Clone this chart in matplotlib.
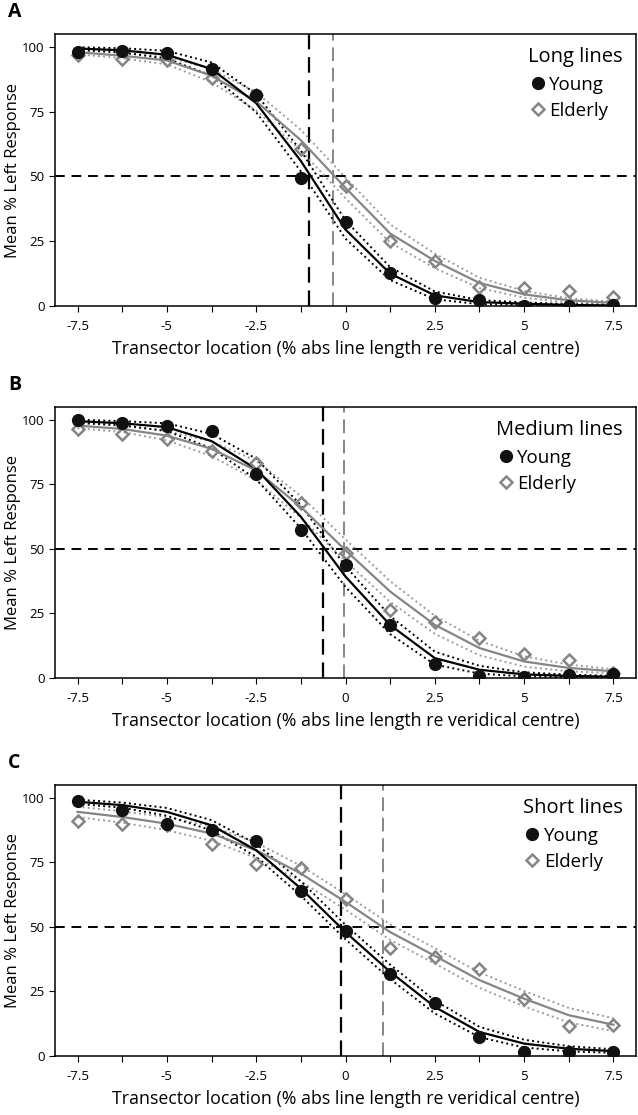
import numpy as np
import matplotlib
matplotlib.use('Agg')
import matplotlib.pyplot as plt

plt.rcParams['font.family'] = ['Open Sans', 'DejaVu Sans']

# transector positions (% line length re veridical centre)
x = [-7.5, -6.25, -5, -3.75, -2.5, -1.25, 0, 1.25, 2.5, 3.75, 5, 6.25, 7.5]
xtick_labels = ['-7.5', '-5', '-2.5', '0', '2.5', '5', '7.5']
panel_letters = ['A', 'B', 'C']
panel_titles = ['Long lines', 'Medium lines', 'Short lines']

# A - long lines
young_a = [98, 98.3, 97.7, 91.5, 81.5, 49.5, 32.5, 12.8, 3.1, 2.2, 0, 0, 0.3]
elderly_a = [97, 95.5, 94.8, 88, 81.5, 60.6, 46.3, 25, 17.3, 7.4, 7, 5.8, 3.5]
young_fit_a = [99.4, 98.7, 97, 91.5, 78.3, 56, 29.5, 12.5, 4.1, 1.5, 0.9, 0.4, 0.2]
elderly_fit_a = [98, 96.6, 94.8, 88.9, 79, 64, 45.6, 28, 17.4, 8.9, 4.5, 2.2, 1.2]
young_ci_a = [0.5, 0.8, 1.5, 2.5, 3.5, 4.0, 3.5, 2.5, 1.5, 0.8, 0.5, 0.3, 0.2]
elderly_ci_a = [0.8, 1.0, 1.5, 2.5, 3.5, 4.0, 4.0, 3.5, 2.8, 2.0, 1.3, 0.8, 0.5]
pse_a = [-1.02, -0.36]

# B - medium lines
young_b = [100, 98.7, 97.8, 95.6, 79.2, 57.3, 43.8, 20.6, 5.5, 0.6, 0.3, 1.3, 1.6]
elderly_b = [96.3, 94.6, 92.7, 87.8, 83.3, 67.8, 48.5, 26.4, 21.6, 15.4, 9.4, 6.8, 1.9]
young_fit_b = [99.5, 98.7, 97.2, 91.8, 81, 62.5, 39.3, 20.5, 7.7, 3.2, 1.4, 0.8, 0.5]
elderly_fit_b = [97.8, 96.5, 93.9, 88.8, 80.4, 66.3, 49.5, 33.5, 20.6, 11.6, 6.4, 3.9, 2.6]
young_ci_b = [0.6, 0.8, 1.5, 2.8, 4.0, 4.5, 4.0, 3.5, 2.5, 1.5, 0.8, 0.5, 0.3]
elderly_ci_b = [1.0, 1.2, 1.8, 2.8, 3.8, 4.2, 4.2, 4.0, 3.5, 2.8, 2.0, 1.3, 0.8]
pse_b = [-0.63, -0.03]

# C - short lines
young_c = [98.7, 95.2, 89.7, 87.5, 83.3, 64, 48.4, 31.9, 20.7, 7.4, 1.6, 1.6, 1.6]
elderly_c = [90.9, 90, 89.6, 82, 74.3, 73, 60.7, 42, 38.4, 33.6, 22.2, 11.6, 12.1]
young_fit_c = [98.5, 97.2, 94.6, 89.4, 79.7, 64.9, 48, 32.6, 19, 9.3, 4.8, 2.8, 1.9]
elderly_fit_c = [94.6, 92.6, 90, 86.2, 79.7, 70.7, 59.7, 48, 38.8, 29.4, 22.2, 15.8, 12.1]
young_ci_c = [0.8, 1.0, 1.5, 2.0, 2.5, 2.8, 2.8, 2.8, 2.5, 2.0, 1.5, 1.0, 0.7]
elderly_ci_c = [2.0, 2.2, 2.5, 2.8, 3.0, 3.0, 3.0, 3.0, 3.0, 3.0, 3.0, 2.8, 2.5]
pse_c = [-0.13, 1.05]

panels = [
    (young_a, elderly_a, young_fit_a, elderly_fit_a, young_ci_a, elderly_ci_a, pse_a),
    (young_b, elderly_b, young_fit_b, elderly_fit_b, young_ci_b, elderly_ci_b, pse_b),
    (young_c, elderly_c, young_fit_c, elderly_fit_c, young_ci_c, elderly_ci_c, pse_c),
]

W, H = 638, 1115
fig = plt.figure(figsize=(W / 100, H / 100), dpi=100)
fig.patch.set_facecolor('white')

# axes boxes in pixels: (top, bottom)
boxes = [(34, 306), (407, 678), (785, 1056)]
left, right = 55, 636

grey = '#858585'
grey_dot = '#9a9a9a'

for i, (yv, ev, yf, ef, yci, eci, pse) in enumerate(panels):
    top, bot = boxes[i]
    ax = fig.add_axes([left / W, 1 - bot / H, (right - left) / W, (bot - top) / H])
    yf = np.array(yf)
    ef = np.array(ef)
    yci = np.array(yci)
    eci = np.array(eci)

    ax.axhline(50, color='black', lw=1.4, ls=(0, (5, 3.5)), zorder=1)
    ax.axvline(pse[0], color='black', lw=1.6, ls=(0, (7, 3.5)), zorder=1)
    ax.axvline(pse[1], color=grey, lw=1.4, ls=(0, (7, 3.5)), zorder=1)

    ax.plot(x, ef + eci, color=grey_dot, ls=':', lw=1.4, zorder=2)
    ax.plot(x, ef - eci, color=grey_dot, ls=':', lw=1.4, zorder=2)
    ax.plot(x, ef, color=grey, lw=1.6, zorder=3)
    ax.plot(x, yf + yci, color='black', ls=':', lw=1.4, zorder=2)
    ax.plot(x, yf - yci, color='black', ls=':', lw=1.4, zorder=2)
    ax.plot(x, yf, color='black', lw=1.6, zorder=3)

    ax.plot(x, ev, ls='none', marker='D', ms=6.5, mfc='none', mec=grey, mew=1.8,
            label='Elderly', zorder=4)
    ax.plot(x, yv, ls='none', marker='o', ms=8.5, mfc='#111111', mec='#111111',
            label='Young', zorder=5)

    ax.set_xlim(-8.13, 8.13)
    ax.set_ylim(0, 105)
    ax.set_xticks([-7.5, -5, -2.5, 0, 2.5, 5, 7.5])
    ax.set_xticklabels(xtick_labels)
    ax.set_xticks(x, minor=True)
    ax.set_yticks([0, 25, 50, 75, 100])
    ax.tick_params(axis='both', which='both', direction='out', length=4, width=0.8,
                   labelsize=9.5, colors='black')
    ax.tick_params(axis='x', pad=6)
    for s in ax.spines.values():
        s.set_linewidth(1.1)

    ax.set_xlabel('Transector location (% abs line length re veridical centre)',
                  fontsize=12.8)
    ax.xaxis.set_label_coords(0.5, -0.125)
    ax.set_ylabel('Mean % Left Response', fontsize=12)
    ax.yaxis.set_label_coords(-0.058, 0.5)

    handles, labels = ax.get_legend_handles_labels()
    leg = ax.legend(handles[::-1], labels[::-1], title=panel_titles[i], loc='upper right',
                    frameon=False, fontsize=13.5, title_fontsize=14.5,
                    handletextpad=0.1, handlelength=1.0, labelspacing=0.45,
                    borderaxespad=0.3, bbox_to_anchor=(1.0, 1.0))
    leg._legend_box.align = 'left'

    fig.text(8 / W, 1 - (top - 22) / H, panel_letters[i], fontsize=14, fontweight='bold',
             va='center', ha='left')

fig.savefig('out.png', dpi=100, facecolor='white')
